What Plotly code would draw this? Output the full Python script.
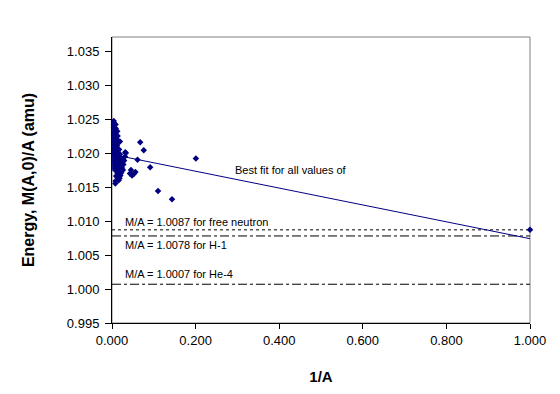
import plotly.graph_objects as go

# ---- data ----
inv_A = [
    0.0042, 0.0043, 0.0044, 0.0045, 0.0046, 0.0047, 0.0048, 0.0049, 0.0050, 0.0051, 0.0052, 0.0053,
    0.0054, 0.0056, 0.0058, 0.0060, 0.0062, 0.0064, 0.0066, 0.0068, 0.0070, 0.0072, 0.0075,
    0.0048, 0.0052, 0.0056, 0.0060, 0.0065, 0.0070, 0.0075, 0.0080, 0.0085, 0.0090, 0.0095, 0.0100,
    0.0105, 0.0110, 0.0115, 0.0120, 0.0125, 0.0130, 0.0135, 0.0140, 0.0145,
    0.0085, 0.0090, 0.0095, 0.0100, 0.0105, 0.0110, 0.0120, 0.0130, 0.0140, 0.0150, 0.0160, 0.0170,
    0.0180, 0.0190, 0.0200, 0.0210, 0.0220,
    0.0125, 0.0135, 0.0150, 0.0170, 0.0190, 0.0210, 0.0230, 0.0250, 0.0270, 0.0290, 0.0310, 0.0330,
    0.0240, 0.0260, 0.0200, 0.0180, 0.0160,
    0.0085, 0.0080, 0.0100, 0.0120,
    0.0190, 0.0317, 0.0430, 0.0480, 0.0520, 0.0560, 0.0455, 0.0610, 0.0674, 0.0760, 0.0913,
    0.1100, 0.1436, 0.2007, 1.0000,
]
mass_per_A = [
    1.0247, 1.0242, 1.0237, 1.0232, 1.0228, 1.0225, 1.0221, 1.0218, 1.0214, 1.0211, 1.0207, 1.0204,
    1.0201, 1.0198, 1.0195, 1.0192, 1.0189, 1.0186, 1.0184, 1.0181, 1.0179, 1.0177, 1.0175,
    1.0244, 1.0238, 1.0233, 1.0229, 1.0224, 1.0219, 1.0214, 1.0210, 1.0205, 1.0201, 1.0197, 1.0193,
    1.0189, 1.0186, 1.0182, 1.0179, 1.0176, 1.0173, 1.0170, 1.0167, 1.0165,
    1.0242, 1.0236, 1.0230, 1.0226, 1.0221, 1.0216, 1.0211, 1.0206, 1.0201, 1.0196, 1.0192, 1.0188,
    1.0184, 1.0180, 1.0177, 1.0174, 1.0171,
    1.0232, 1.0225, 1.0215, 1.0205, 1.0198, 1.0193, 1.0188, 1.0186, 1.0183, 1.0189, 1.0195, 1.0200,
    1.0178, 1.0175, 1.0167, 1.0163, 1.0160,
    1.0159, 1.0155, 1.0166, 1.0165,
    1.0217, 1.0201, 1.0170, 1.0167, 1.0169, 1.0172, 1.0175, 1.0190, 1.0216, 1.0204, 1.0179,
    1.0144, 1.0132, 1.0192, 1.0087,
]

fit_x = [0.0, 1.0]
fit_y = [1.0198, 1.0074]

ref_x = [0.0, 1.0]
ref_names = ["M/A = 1.0087 for free neutron", "M/A = 1.0078 for H-1", "M/A = 1.0007 for He-4"]
ref_values = [1.0087, 1.0078, 1.0007]
ref_dash = ["dot", "dashdot", "dashdot"]
ref_label_y = [1.00988, 1.00648, 1.00217]

fit_label = "Best fit for all values of"

y_ticks = [0.995, 1.000, 1.005, 1.010, 1.015, 1.020, 1.025, 1.030, 1.035]
x_ticks = [0.0, 0.2, 0.4, 0.6, 0.8, 1.0]

NAVY = "#000080"
FONT = "Arial, Liberation Sans, sans-serif"

fig = go.Figure()

for val, dash in zip(ref_values, ref_dash):
    fig.add_trace(go.Scatter(x=ref_x, y=[val, val], mode="lines",
                             line=dict(color="black", width=1, dash=dash),
                             hoverinfo="skip", showlegend=False))

fig.add_trace(go.Scatter(x=fit_x, y=fit_y, mode="lines",
                         line=dict(color=NAVY, width=1), showlegend=False))

fig.add_trace(go.Scatter(x=inv_A, y=mass_per_A, mode="markers",
                         marker=dict(symbol="diamond", size=5, color=NAVY),
                         showlegend=False, cliponaxis=False))

annotations = []
for name, ly in zip(ref_names, ref_label_y):
    annotations.append(dict(x=0.026, y=ly, xref="x", yref="y", text=name, showarrow=False,
                            xanchor="left", yanchor="middle",
                            font=dict(family=FONT, size=11, color="black")))
annotations.append(dict(x=0.289, y=1.01754, xref="x", yref="y", text=fit_label,
                        showarrow=False, xanchor="left", yanchor="middle",
                        font=dict(family=FONT, size=11, color="black")))

fig.update_layout(
    width=560, height=394,
    margin=dict(l=104, r=38, t=29, b=79),
    paper_bgcolor="white", plot_bgcolor="white",
    font=dict(family=FONT, size=13, color="black"),
    annotations=annotations,
    shapes=[dict(type="rect", xref="paper", yref="paper", x0=0, y0=0, x1=1, y1=1,
                 line=dict(color="#808080", width=1), layer="below")],
    xaxis=dict(range=[0, 1.0], tickvals=x_ticks, tickformat=".3f",
               showgrid=False, zeroline=False, showline=True, linecolor="black", linewidth=1,
               ticks="outside", ticklen=5, tickcolor="black",
               title=dict(text="<b>1/A</b>", font=dict(size=15), standoff=24)),
    yaxis=dict(range=[0.995, 1.03706], tickvals=y_ticks, tickformat=".3f",
               showgrid=False, zeroline=False, showline=True, linecolor="black", linewidth=1,
               ticks="outside", ticklen=6, tickcolor="black", ticklabelstandoff=3,
               title=dict(text="<b>Energy, M(A,0)/A (amu)</b>", font=dict(size=16), standoff=28)),
)

fig.write_html("out.html")
